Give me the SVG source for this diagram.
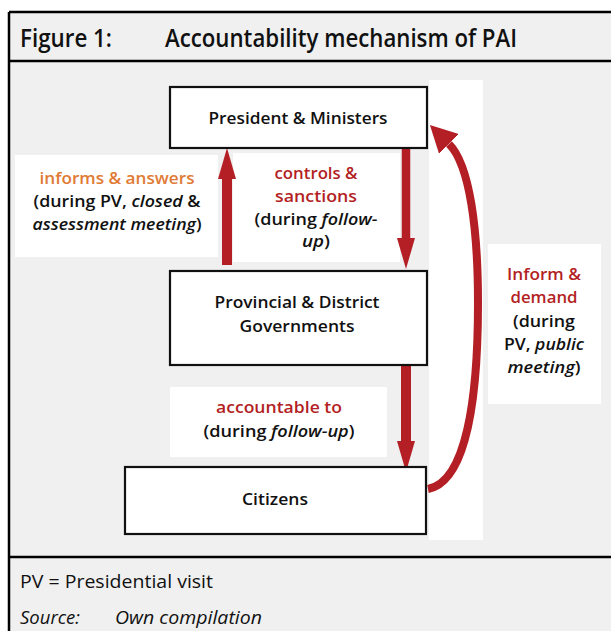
<svg xmlns="http://www.w3.org/2000/svg" width="611" height="631" viewBox="0 0 611 631">
<style>
.bg{fill:#f0f0f0}
.frame{stroke:#000;stroke-width:2.5;fill:none}
.node{fill:#fff;stroke:#111;stroke-width:2.2}
.lab{fill:#fff}
.t{font-family:"Open Sans","DejaVu Sans",sans-serif;font-weight:600;font-size:17px;fill:#111;text-anchor:middle}
.red{fill:#b31f24}
.org{fill:#e07a35}
.i{font-style:italic}
.hd{font-family:"Open Sans","DejaVu Sans",sans-serif;font-weight:600;font-size:25px;fill:#111}
.ft{font-family:"Open Sans","DejaVu Sans",sans-serif;font-weight:400;font-size:19px;fill:#111}
.arr{stroke:#b31f24;fill:none}
</style>
<defs>
<marker id="head" viewBox="0 -9 31 18" markerWidth="31" markerHeight="18" refX="0" refY="0" orient="auto" markerUnits="userSpaceOnUse">
<path d="M0,-9 L31,0 L0,9 Z" fill="#b31f24"/>
</marker>
<marker id="head2" viewBox="0 -14 27 28" markerWidth="27" markerHeight="28" refX="0" refY="0" orient="auto" markerUnits="userSpaceOnUse">
<path d="M0,-14 L27,0 L0,14 Z" fill="#b31f24"/>
</marker>
</defs>
<rect x="0" y="0" width="611" height="631" fill="#fff"/>
<rect class="bg" x="9" y="12" width="602" height="619"/>
<rect x="429" y="80" width="54" height="460" fill="#fff"/>
<g id="frame">
<line class="frame" x1="9" y1="12" x2="611" y2="12"/>
<line class="frame" x1="9" y1="12" x2="9" y2="631"/>
<line class="frame" x1="9" y1="61" x2="611" y2="61"/>
<line class="frame" x1="9" y1="557" x2="611" y2="557"/>
</g>
<g id="header">
<text class="hd" x="20" y="47" textLength="92" lengthAdjust="spacingAndGlyphs">Figure 1:</text>
<text class="hd" x="165" y="47" textLength="352" lengthAdjust="spacingAndGlyphs">Accountability mechanism of PAI</text>
</g>
<g id="label-informs">
<rect class="lab" x="15" y="155" width="203" height="102"/>
<text class="t org" x="117" y="184" textLength="155" lengthAdjust="spacingAndGlyphs">informs &amp; answers</text>
<text class="t" x="117" y="207" textLength="167" lengthAdjust="spacingAndGlyphs">(during PV, <tspan class="i">closed</tspan> &amp;</text>
<text class="t" x="117" y="230" textLength="169" lengthAdjust="spacingAndGlyphs"><tspan class="i">assessment meeting</tspan>)</text>
</g>
<g id="label-controls">
<rect class="lab" x="233" y="153" width="167" height="109"/>
<text class="t red" x="316" y="179" textLength="83" lengthAdjust="spacingAndGlyphs">controls &amp;</text>
<text class="t red" x="316" y="202" textLength="82" lengthAdjust="spacingAndGlyphs">sanctions</text>
<text class="t" x="316" y="225" textLength="123" lengthAdjust="spacingAndGlyphs">(during <tspan class="i">follow-</tspan></text>
<text class="t" x="316" y="247" textLength="28" lengthAdjust="spacingAndGlyphs"><tspan class="i">up</tspan>)</text>
</g>
<g id="label-accountable">
<rect class="lab" x="170" y="387" width="217" height="70"/>
<text class="t red" x="279" y="413" textLength="126" lengthAdjust="spacingAndGlyphs">accountable to</text>
<text class="t" x="279" y="437" textLength="151" lengthAdjust="spacingAndGlyphs">(during <tspan class="i">follow-up</tspan>)</text>
</g>
<g id="label-inform-demand">
<rect class="lab" x="488" y="244" width="113" height="160"/>
<text class="t red" x="544" y="280" textLength="74" lengthAdjust="spacingAndGlyphs">Inform &amp;</text>
<text class="t red" x="544" y="303" textLength="67" lengthAdjust="spacingAndGlyphs">demand</text>
<text class="t" x="544" y="327" textLength="62" lengthAdjust="spacingAndGlyphs">(during</text>
<text class="t" x="544" y="350" textLength="80" lengthAdjust="spacingAndGlyphs">PV, <tspan class="i">public</tspan></text>
<text class="t" x="544" y="373" textLength="73" lengthAdjust="spacingAndGlyphs"><tspan class="i">meeting</tspan>)</text>
</g>
<g id="connectors">
<line class="arr" x1="227" y1="265" x2="227" y2="179" stroke-width="10" marker-end="url(#head)"/>
<line class="arr" x1="406" y1="148" x2="406" y2="238" stroke-width="8.5" marker-end="url(#head)"/>
<line class="arr" x1="406" y1="365" x2="406" y2="441" stroke-width="10" marker-end="url(#head)"/>
<path class="arr" d="M428,489 C466,482 478,400 478,303 C478,230 470,165 449,144" stroke-width="8" marker-end="url(#head2)"/>
</g>
<g id="node-president">
<rect class="node" x="170" y="87" width="257" height="61"/>
<text class="t" x="298" y="124" textLength="179" lengthAdjust="spacingAndGlyphs">President &amp; Ministers</text>
</g>
<g id="node-provincial">
<rect class="node" x="170" y="271" width="257" height="94"/>
<text class="t" x="297" y="308" textLength="165" lengthAdjust="spacingAndGlyphs">Provincial &amp; District</text>
<text class="t" x="297" y="332" textLength="115" lengthAdjust="spacingAndGlyphs">Governments</text>
</g>
<g id="node-citizens">
<rect class="node" x="125" y="467" width="301" height="67"/>
<text class="t" x="275" y="505" textLength="66" lengthAdjust="spacingAndGlyphs">Citizens</text>
</g>
<g id="footer">
<text class="ft" x="20" y="588" textLength="193" lengthAdjust="spacingAndGlyphs">PV = Presidential visit</text>
<text class="ft i" x="20" y="624" textLength="60" lengthAdjust="spacingAndGlyphs">Source:</text>
<text class="ft i" x="115" y="624" textLength="147" lengthAdjust="spacingAndGlyphs">Own compilation</text>
</g>
</svg>
